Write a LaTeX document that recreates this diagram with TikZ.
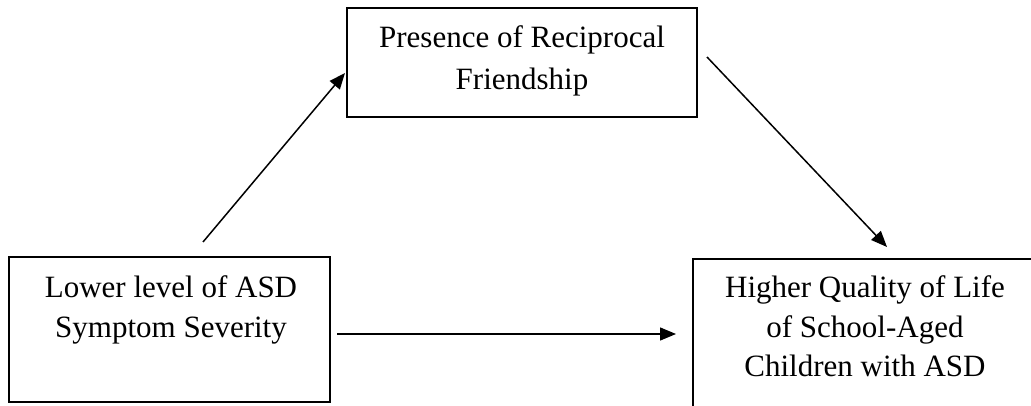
\documentclass[tikz,border=0pt]{standalone}
\usepackage{fontspec}
\setmainfont{Liberation Serif}
\usetikzlibrary{arrows.meta}
\begin{document}
\begin{tikzpicture}[x=1pt,y=-1pt,
  box/.style={draw, line width=1.6pt, inner sep=0pt},
  lbl/.style={inner sep=0pt, anchor=base, font=\fontsize{31}{39.5}\selectfont},
  conn/.style={line width=1.5pt, -{Triangle[length=16pt,width=13pt]}}]
\useasboundingbox (0,0) rectangle (1031,406);
\clip (0,0) rectangle (1031,406);
% boxes
\node[box, minimum width=350pt, minimum height=109pt] (top) at (522,62.5) {};
\node[box, minimum width=321pt, minimum height=145pt] (left) at (169.5,329.5) {};
\node[box, minimum width=344pt, minimum height=166pt] (right) at (865,342) {};
% texts
\node[lbl, font=\fontsize{31}{42}\selectfont] (toptext) at (522,48)
  {\begin{tabular}[t]{@{}c@{}}Presence of Reciprocal\\Friendship\end{tabular}};
\node[lbl] (lefttext) at (171,298)
  {\begin{tabular}[t]{@{}c@{}}Lower level of ASD\\Symptom Severity\end{tabular}};
\node[lbl] (righttext) at (865,298)
  {\begin{tabular}[t]{@{}c@{}}Higher Quality of Life\\of School-Aged\\Children with ASD\end{tabular}};
% connector ends
\coordinate (a1s) at (203,242);
\coordinate (a1e) at (345,73);
\coordinate (a2s) at (707,57);
\coordinate (a2e) at (887,247);
\coordinate (a3s) at (337,334);
\coordinate (a3e) at (676,334);
\draw[conn] (a1s) -- (a1e);
\draw[conn] (a2s) -- (a2e);
\draw[conn] (a3s) -- (a3e);
\end{tikzpicture}
\end{document}
